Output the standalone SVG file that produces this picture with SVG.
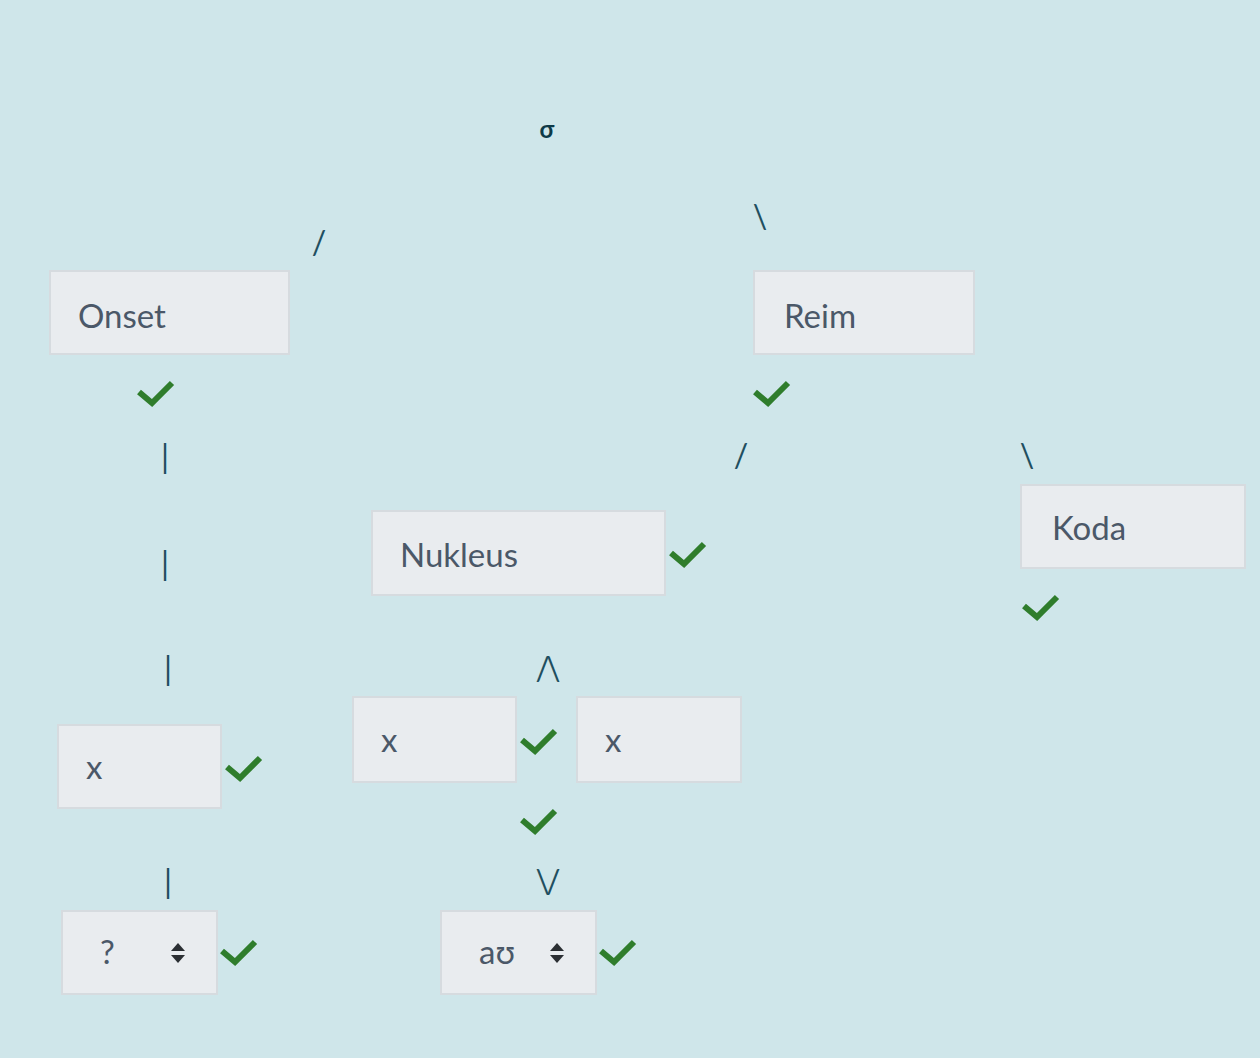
<svg xmlns="http://www.w3.org/2000/svg" width="1260" height="1058" viewBox="0 0 1260 1058">
<defs>
<style>
.box{fill:#e9ecef;stroke:#d6dbdf;stroke-width:2}
.lbl{font-family:Lato,"Open Sans","Liberation Sans",sans-serif;font-size:33px;fill:#4b5868}
.sl{font-family:Lato,"Open Sans","Liberation Sans",sans-serif;font-size:32px;fill:#1f4f60;text-anchor:middle}
.tight{letter-spacing:-4px}
.chk{fill:none;stroke:#2f7d2c;stroke-width:6;stroke-linejoin:miter}
.arr{fill:#2b2f33}
</style>
<symbol id="check" viewBox="-20 -14 40 28" overflow="visible">
<path class="chk" d="M-16,0 L-3,11 L17,-9"/>
</symbol>
<g id="updown">
<polygon class="arr" points="-7,-2 7,-2 0,-10"/>
<polygon class="arr" points="-7,2 7,2 0,10"/>
</g>
</defs>
<rect width="1260" height="1058" fill="#cfe6ea"/>

<g id="connectors">
<text class="sl" x="319" y="254">/</text>
<text class="sl" x="760" y="228">\</text>
<text class="sl" x="165" y="468">|</text>
<text class="sl" x="165" y="575">|</text>
<text class="sl" x="168" y="680">|</text>
<text class="sl" x="168" y="893">|</text>
<text class="sl" x="741" y="467">/</text>
<text class="sl" x="1027" y="467">\</text>
<text class="sl tight" x="546" y="680">/\</text>
<text class="sl tight" x="546" y="893">\/</text>
</g>

<g id="sigma">
<text x="547" y="138" text-anchor="middle" font-family="Lato,'Open Sans','Liberation Sans',sans-serif" font-size="24" font-weight="bold" fill="#0e3a48">σ</text>
</g>

<g id="onset">
<rect class="box" x="50" y="271" width="239" height="83"/>
<text class="lbl" x="78" y="328">Onset</text>
<use href="#check" x="-20" y="-14" width="40" height="28" transform="translate(155,392)"/>
</g>

<g id="reim">
<rect class="box" x="754" y="271" width="220" height="83"/>
<text class="lbl" x="784" y="328">Reim</text>
<use href="#check" x="-20" y="-14" width="40" height="28" transform="translate(771,392)"/>
</g>

<g id="nukleus">
<rect class="box" x="372" y="511" width="293" height="84"/>
<text class="lbl" x="400" y="567">Nukleus</text>
<use href="#check" x="-20" y="-14" width="40" height="28" transform="translate(687,553)"/>
</g>

<g id="koda">
<rect class="box" x="1021" y="485" width="224" height="83"/>
<text class="lbl" x="1052" y="540">Koda</text>
<use href="#check" x="-20" y="-14" width="40" height="28" transform="translate(1040,606)"/>
</g>

<g id="onset-x">
<rect class="box" x="58" y="725" width="163" height="83"/>
<text class="lbl" x="86" y="779">x</text>
<use href="#check" x="-20" y="-14" width="40" height="28" transform="translate(243,767)"/>
</g>

<g id="nukleus-x1">
<rect class="box" x="353" y="697" width="163" height="85"/>
<text class="lbl" x="381" y="752">x</text>
<use href="#check" x="-20" y="-14" width="40" height="28" transform="translate(538,740)"/>
</g>

<g id="nukleus-x2">
<rect class="box" x="577" y="697" width="164" height="85"/>
<text class="lbl" x="605" y="752">x</text>
</g>

<g id="nukleus-x-check">
<use href="#check" x="-20" y="-14" width="40" height="28" transform="translate(538,820)"/>
</g>

<g id="onset-select">
<rect class="box" x="62" y="911" width="155" height="83"/>
<text class="lbl" x="100" y="964">?</text>
<use href="#updown" transform="translate(178,953)"/>
<use href="#check" x="-20" y="-14" width="40" height="28" transform="translate(238,951)"/>
</g>

<g id="nukleus-select">
<rect class="box" x="441" y="911" width="155" height="83"/>
<text class="lbl" x="479" y="964">aʊ</text>
<use href="#updown" transform="translate(557,953)"/>
<use href="#check" x="-20" y="-14" width="40" height="28" transform="translate(617,951)"/>
</g>
</svg>
